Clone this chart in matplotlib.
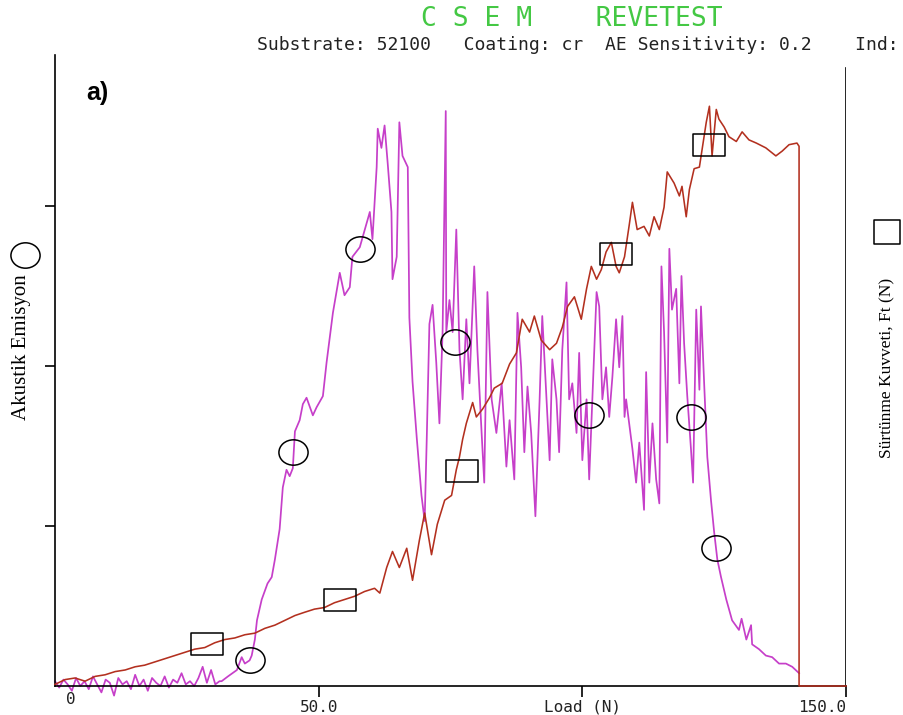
import matplotlib
matplotlib.use("Agg")
import matplotlib.pyplot as plt
from matplotlib.path import Path
from matplotlib.transforms import Affine2D

# --- data (load in N, signals in axis units) ---
ae_load = [0, 0.8, 1.6, 2.4, 3.2, 4.0, 4.8, 5.6, 6.4, 7.2, 8.0, 8.8, 9.6, 10.4, 11.2,
           12.0, 12.8, 13.6, 14.4, 15.2, 16.0, 16.8, 17.6, 18.4, 19.2, 20.0, 20.8, 21.6,
           22.4, 23.2, 24.0, 24.8, 25.6, 26.4, 27.2, 28.0, 28.8, 29.6, 30.4, 31.2,
           31.6, 32.8, 34.5, 35.4, 36.0, 36.9, 37.3, 37.9, 38.3, 39.2, 40.3, 41.1, 41.7,
           42.6, 43.2, 43.9, 44.5, 45.1, 45.5, 46.4, 47.0, 47.7, 48.9, 49.6, 50.8, 51.5,
           52.7, 54.0, 54.9, 55.9, 56.4, 57.8, 59.1, 59.7, 60.2, 61.0, 61.2, 61.9, 62.5,
           63.1, 63.8, 64.0, 64.8, 65.3, 65.9, 66.9, 67.2, 67.8, 68.6, 69.5, 70.1, 70.5,
           71.0, 71.6, 72.3, 72.9, 73.5, 74.1, 74.2, 74.8, 75.4, 76.1, 76.7, 77.3, 78.0,
           78.6, 79.5, 80.1, 80.9, 81.4, 82.0, 82.8, 83.7, 84.7, 85.6, 86.2, 87.1, 87.7,
           88.4, 89.0, 89.6, 90.3, 91.1, 91.9, 92.4, 93.2, 93.8, 94.3, 95.1, 95.6, 96.2,
           97.0, 97.5, 98.1, 98.9, 99.4, 100.0, 100.8, 101.3, 101.9, 102.7, 103.2, 103.8,
           104.5, 105.1, 105.7, 106.4, 107.0, 107.6, 108.0, 108.3, 109.5, 110.2, 110.8,
           111.7, 112.1, 112.7, 113.3, 114.0, 114.6, 115.0, 115.5, 116.1, 116.5, 117.0,
           117.8, 118.4, 118.8, 119.3, 119.9, 120.6, 121.0, 121.6, 122.2, 122.5, 123.1,
           123.7, 124.4, 125.0, 125.6, 126.3, 127.3, 128.4, 129.7, 130.2, 131.1, 132.0,
           132.2, 133.5, 134.8, 136.0, 137.3, 138.6, 139.8, 141.1]
ae_value = [0.03, -0.01, 0.04, 0.01, -0.03, 0.05, 0.00, 0.03, -0.02, 0.06, 0.01, -0.04,
            0.04, 0.02, -0.06, 0.05, 0.01, 0.03, -0.02, 0.07, 0.00, 0.04, -0.03, 0.05,
            0.02, 0.00, 0.06, -0.01, 0.04, 0.02, 0.08, 0.01, 0.03, 0.00, 0.05, 0.12,
            0.02, 0.10, 0.01, 0.03,
            0.03, 0.06, 0.10, 0.18, 0.14, 0.16, 0.19, 0.29, 0.41, 0.54, 0.64, 0.68, 0.79,
            0.98, 1.24, 1.35, 1.31, 1.36, 1.59, 1.66, 1.76, 1.80, 1.69, 1.74, 1.81, 2.02,
            2.33, 2.58, 2.44, 2.49, 2.68, 2.74, 2.89, 2.96, 2.79, 3.24, 3.48, 3.36, 3.50,
            3.26, 2.96, 2.54, 2.68, 3.52, 3.31, 3.24, 2.30, 1.90, 1.55, 1.19, 1.03, 1.55,
            2.26, 2.38, 2.02, 1.64, 2.21, 3.59, 2.21, 2.41, 2.21, 2.85, 2.10, 1.79, 2.29,
            1.89, 2.62, 2.10, 1.58, 1.27, 2.46, 1.79, 1.58, 1.89, 1.37, 1.66, 1.29, 2.33,
            1.99, 1.46, 1.87, 1.58, 1.06, 1.79, 2.31, 1.79, 1.41, 2.04, 1.79, 1.46, 2.10,
            2.52, 1.79, 1.89, 1.58, 2.08, 1.41, 1.79, 1.29, 1.79, 2.46, 2.37, 1.79,
            1.99, 1.68, 1.93, 2.29, 1.99, 2.31, 1.68, 1.79, 1.48, 1.27, 1.52,
            1.10, 1.96, 1.27, 1.64, 1.29, 1.14, 2.62, 2.21, 1.52, 2.73, 2.35,
            2.48, 1.89, 2.56, 2.14, 1.81, 1.48, 1.27, 2.35, 1.85, 2.37, 1.89,
            1.43, 1.16, 0.96, 0.79, 0.68, 0.54, 0.41, 0.35, 0.42, 0.29, 0.38,
            0.26, 0.23, 0.19, 0.18, 0.14, 0.14, 0.12, 0.08]

ft_load = [0, 1.9, 3.8, 5.7, 7.6, 9.5, 11.4, 13.3, 15.2, 17.0, 18.9, 20.8, 22.7, 24.6,
           26.5, 28.4, 30.3, 32.2, 34.1, 36.0, 37.9, 39.8, 41.7, 43.6, 45.5, 47.3, 49.2,
           51.1, 53.0, 54.9, 56.8, 58.7, 60.6, 61.6, 62.9, 64.0, 65.3, 66.7, 67.8, 69.1,
           70.1, 71.4, 72.5, 73.9, 75.2, 76.1, 76.7, 77.3, 78.0, 79.2, 79.9, 81.1, 82.4,
           83.3, 84.8, 86.2, 87.5, 88.6, 90.0, 90.9, 92.2, 93.8, 95.1, 96.2, 97.2, 98.5,
           99.8, 100.8, 101.7, 102.7, 103.6, 104.5, 105.5, 106.4, 107.0, 108.0, 108.9,
           109.5, 110.4, 111.7, 112.7, 113.6, 114.6, 115.5, 116.1, 117.4, 118.4, 118.9,
           119.7, 120.3, 121.2, 122.2, 123.5, 124.1, 124.6, 125.4, 125.9, 126.9, 127.8,
           129.2, 130.3, 131.6, 133.0, 134.8, 136.7, 137.9, 139.2, 140.7, 141.1, 141.1,
           150.0]
ft_value = [0.01, 0.04, 0.05, 0.03, 0.06, 0.07, 0.09, 0.10, 0.12, 0.13, 0.15, 0.17,
            0.19, 0.21, 0.23, 0.24, 0.27, 0.29, 0.30, 0.32, 0.33, 0.36, 0.38, 0.41,
            0.44, 0.46, 0.48, 0.49, 0.52, 0.54, 0.56, 0.59, 0.61, 0.58, 0.74, 0.84,
            0.74, 0.86, 0.66, 0.91, 1.08, 0.82, 1.01, 1.16, 1.19, 1.35, 1.43, 1.54,
            1.64, 1.77, 1.68, 1.73, 1.80, 1.86, 1.89, 2.01, 2.08, 2.29, 2.21, 2.31,
            2.16, 2.10, 2.14, 2.24, 2.37, 2.43, 2.29, 2.48, 2.62, 2.54, 2.60, 2.71,
            2.77, 2.62, 2.58, 2.68, 2.88, 3.02, 2.85, 2.87, 2.81, 2.93, 2.85, 2.99,
            3.21, 3.14, 3.06, 3.12, 2.93, 3.10, 3.23, 3.24, 3.52, 3.62, 3.31, 3.60,
            3.54, 3.49, 3.43, 3.40, 3.46, 3.41, 3.39, 3.36, 3.31, 3.34, 3.38, 3.39,
            3.37, 0.0, 0.0]

circle_load = [36.9, 45.1, 57.8, 75.9, 101.3, 120.6, 125.4]
circle_value = [0.16, 1.46, 2.73, 2.15, 1.69, 1.68, 0.86]
square_load = [28.8, 54.0, 77.1, 106.4, 124.1]
square_value = [0.26, 0.54, 1.34, 2.70, 3.38]

xtick_pos = [50, 100, 150]
xtick_labels = ["50.0", "Load (N)", "150.0"]

title = "C S E M    REVETEST"
subtitle = "Substrate: 52100   Coating: cr  AE Sensitivity: 0.2    Ind:"

# hollow ellipse / rectangle markers like the instrument print-out
ellipse = Path.unit_circle().transformed(Affine2D().scale(1.15, 1.0))
rect = Path([(-1.45, -1), (1.45, -1), (1.45, 1), (-1.45, 1), (-1.45, -1)],
            [Path.MOVETO, Path.LINETO, Path.LINETO, Path.LINETO, Path.CLOSEPOLY])
box = Path([(-1.1, -1), (1.1, -1), (1.1, 1), (-1.1, 1), (-1.1, -1)],
           [Path.MOVETO, Path.LINETO, Path.LINETO, Path.LINETO, Path.CLOSEPOLY])

fig = plt.figure(figsize=(9.04, 7.15), dpi=100)
ax = fig.add_axes([55 / 904, 29 / 715, 791 / 904, 631 / 715])

ax.plot(ae_load, ae_value, color="#c63fc9", lw=1.25, clip_on=False, zorder=2)
ax.plot(ft_load, ft_value, color="#b3301f", lw=1.15, clip_on=False, zorder=3)
ax.plot(circle_load, circle_value, ls="none", marker=ellipse, ms=21,
        mfc="none", mec="black", mew=1.1, zorder=4)
ax.plot(square_load, square_value, ls="none", marker=rect, ms=23,
        mfc="none", mec="black", mew=1.1, zorder=4)

ax.set_xlim(0, 150)
ax.set_ylim(0, 3.94)
for s in ["top", "right"]:
    ax.spines[s].set_visible(False)
ax.spines["left"].set_linewidth(1.2)
ax.spines["bottom"].set_linewidth(1.2)
ax.axvline(150, ymin=0, ymax=3.86 / 3.94, color="black", lw=1.2)

ax.set_yticks([1, 2, 3])
ax.set_yticklabels([])
ax.tick_params(axis="y", direction="out", length=7, width=1.2)
ax.set_xticks(xtick_pos)
ax.set_xticklabels(xtick_labels, family="DejaVu Sans Mono", fontsize=11.5, color="#222222")
ax.tick_params(axis="x", direction="out", length=8, width=1.2, pad=2)
ax.get_xticklabels()[-1].set_ha("right")
ax.text(2.0, -0.04, "0", ha="left", va="top",
        family="DejaVu Sans Mono", fontsize=11.5, color="#222222")

# header
fig.text(572 / 904, 1 - 19 / 715, title, ha="center", va="center",
         family="DejaVu Sans Mono", fontsize=19, color="#44c844")
fig.text(257 / 904, 1 - 45 / 715, subtitle, ha="left", va="center",
         family="DejaVu Sans Mono", fontsize=13, color="#222222")
fig.text(97 / 904, 1 - 93 / 715, "a)", ha="center", va="center",
         family="Liberation Sans", fontweight="bold", fontsize=18)

# axis titles with their marker symbols
fig.text(22 / 904, 1 - 347 / 715, "Akustik Emisyon", rotation=90, ha="center",
         va="center", family="Liberation Serif", fontsize=15)
fig.text(887 / 904, 1 - 368 / 715, "Sürtünme Kuvveti, Ft (N)", rotation=90,
         ha="center", va="center", family="Liberation Serif", fontsize=12.5)
fig.add_artist(plt.Line2D([25 / 904], [1 - 255 / 715], transform=fig.transFigure,
                          ls="none", marker=ellipse, ms=21, mfc="none", mec="black", mew=1.1))
fig.add_artist(plt.Line2D([887 / 904], [1 - 232 / 715], transform=fig.transFigure,
                          ls="none", marker=box, ms=19, mfc="none", mec="black", mew=1.1))

fig.savefig("out.png", dpi=100)
